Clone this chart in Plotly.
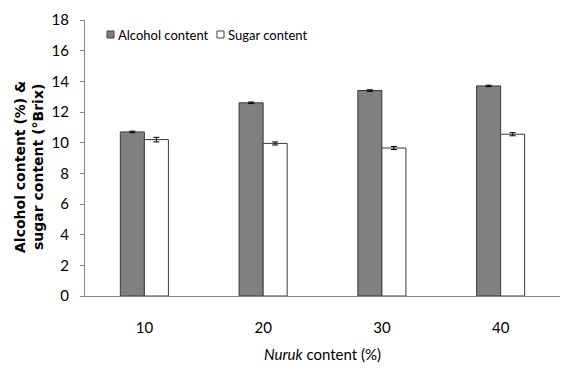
import plotly.graph_objects as go

# Nuruk dosage levels and measured values
categories = ["10", "20", "30", "40"]
alcohol = [10.7, 12.6, 13.4, 13.7]
alcohol_err = [0.05, 0.05, 0.05, 0.05]
sugar = [10.2, 9.95, 9.65, 10.55]
sugar_err = [0.15, 0.1, 0.1, 0.1]
y_ticks = [0, 2, 4, 6, 8, 10, 12, 14, 16, 18]
series_names = ["Alcohol content", "Sugar content"]
series_colors = ["#808080", "white"]
y_title = "<b>Alcohol content (%) &<br>sugar content (°Brix)</b>"
x_title = "<i>Nuruk</i> content (%)"

font_main = "Lato, Calibri, 'Open Sans', sans-serif"
W, H = 562, 371
L, R, T, B = 85, 2, 20, 75
plot_w, plot_h = W - L - R, H - T - B


def px_x(px):
    return (px - L) / plot_w


def px_y(py):
    return (H - B - py) / plot_h


fig = go.Figure()
fig.add_trace(go.Bar(
    x=categories, y=alcohol, name=series_names[0],
    marker=dict(color=series_colors[0], line=dict(color="#3a3a3a", width=1)),
    error_y=dict(type="data", array=alcohol_err, color="black", thickness=1, width=3),
))
fig.add_trace(go.Bar(
    x=categories, y=sugar, name=series_names[1],
    marker=dict(color=series_colors[1], line=dict(color="#3a3a3a", width=1)),
    error_y=dict(type="data", array=sugar_err, color="black", thickness=1, width=3),
))

# Compact legend: small swatches with labels
legend_items = [(107, series_colors[0], series_names[0]), (217, series_colors[1], series_names[1])]
for x0, col, name in legend_items:
    fig.add_shape(type="rect", xref="paper", yref="paper",
                  x0=px_x(x0), x1=px_x(x0 + 7), y0=px_y(38), y1=px_y(31),
                  fillcolor=col, line=dict(color="#404040", width=1))
    fig.add_annotation(xref="paper", yref="paper", x=px_x(x0 + 9), y=px_y(34.5),
                       xanchor="left", yanchor="middle", showarrow=False,
                       text=name, font=dict(family=font_main, size=13, color="black"))

# Vertical axis title, two bold lines
fig.add_annotation(xref="paper", yref="paper", x=px_x(29), y=px_y(167),
                   xanchor="center", yanchor="middle", showarrow=False,
                   textangle=-90, text=y_title,
                   font=dict(family="'DejaVu Sans', Verdana, sans-serif", size=14, color="black"))

fig.update_layout(
    width=W, height=H,
    margin=dict(l=L, r=R, t=T, b=B),
    paper_bgcolor="white", plot_bgcolor="white",
    barmode="group", bargap=0.595, bargroupgap=0,
    font=dict(family=font_main, size=14, color="black"),
    showlegend=False,
    xaxis=dict(
        showline=True, linecolor="#888888", linewidth=1,
        ticks="", showgrid=False, ticklabelstandoff=18,
        tickfont=dict(family=font_main, size=15),
        title=dict(text=x_title, standoff=14,
                   font=dict(family=font_main, size=15)),
    ),
    yaxis=dict(
        range=[0, 18], tickvals=y_ticks, showgrid=False, zeroline=False,
        showline=True, linecolor="#888888", linewidth=1,
        ticks="outside", ticklen=4, tickcolor="#888888", ticklabelstandoff=8,
        tickfont=dict(family=font_main, size=15),
    ),
)

fig.write_html("out.html")
